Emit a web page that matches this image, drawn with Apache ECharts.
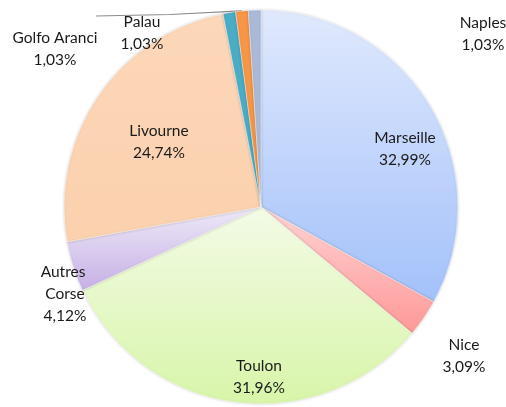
<!DOCTYPE html>
<html>
<head>
<meta charset="utf-8">
<script src="https://cdn.jsdelivr.net/npm/echarts@6/dist/echarts.min.js"></script>
<style>
  html, body { margin: 0; padding: 0; background: #fff; }
  #main { width: 506px; height: 407px; }
</style>
</head>
<body>
<div id="main"></div>
<script>
// ports, in drawing order (clockwise from 12 o'clock)
var ports = ['Marseille', 'Nice', 'Toulon', 'Autres Corse', 'Livourne', 'Golfo Aranci', 'Palau', 'Naples'];
var shares = [32.99, 3.09, 31.96, 4.12, 24.74, 1.03, 1.03, 1.03];

// top / bottom colour of each slice gradient
var topColors = ['#e0e9fd', '#ffd3d3', '#f3fbe6', '#eee9f8', '#fcd7b9', '#4bacc6', '#f79646', '#a9b9d7'];
var bottomColors = ['#a3c1fa', '#ff9898', '#d8f5a9', '#c6b0e5', '#fbd1ae', '#4bacc6', '#f79646', '#a9b9d7'];

// where each label sits (text centre)
var labelPos = [
  [405, 149], [464, 356], [259, 377], [65, 294],
  [159, 142], [55, 49], [142, 33], [483, 34]
];

var chart = echarts.init(document.getElementById('main'));

var data = ports.map(function (name, i) {
  var item = {
    name: name,
    value: shares[i],
    itemStyle: {
      color: new echarts.graphic.LinearGradient(0, 0, 0, 1, [
        { offset: 0, color: topColors[i] },
        { offset: 1, color: bottomColors[i] }
      ])
    }
  };
  if (name === 'Autres Corse') {
    item.label = { width: 55, overflow: 'break' };
  }
  if (name === 'Palau') {
    item.labelLine = { show: true, lineStyle: { color: '#8c8c8c', width: 1.2 } };
  }
  return item;
});

chart.setOption({
  animation: false,
  series: [{
    type: 'pie',
    center: [261, 207],
    radius: [0, 197],
    startAngle: 90,
    clockwise: true,
    avoidLabelOverlap: false,
    data: data,
    itemStyle: {
      borderColor: 'rgba(255,255,255,0.7)',
      borderWidth: 0.6,
      shadowBlur: 3,
      shadowColor: 'rgba(0,0,0,0.18)'
    },
    label: {
      show: true,
      position: 'outside',
      fontFamily: 'Lato',
      fontSize: 15.5,
      lineHeight: 22,
      color: '#1a1a1a',
      align: 'center',
      formatter: function (p) {
        return p.name + '\n' + p.value.toFixed(2).replace('.', ',') + '%';
      }
    },
    labelLine: { show: false },
    labelLayout: function (params) {
      var pos = labelPos[params.dataIndex];
      var out = { x: pos[0], y: pos[1], align: 'center', verticalAlign: 'middle' };
      if (params.labelLinePoints && ports[params.dataIndex] === 'Palau') {
        var start = params.labelLinePoints[0];
        out.labelLinePoints = [start, [170, 14.5], [96, 16]];
      }
      return out;
    }
  }]
});
</script>
</body>
</html>
